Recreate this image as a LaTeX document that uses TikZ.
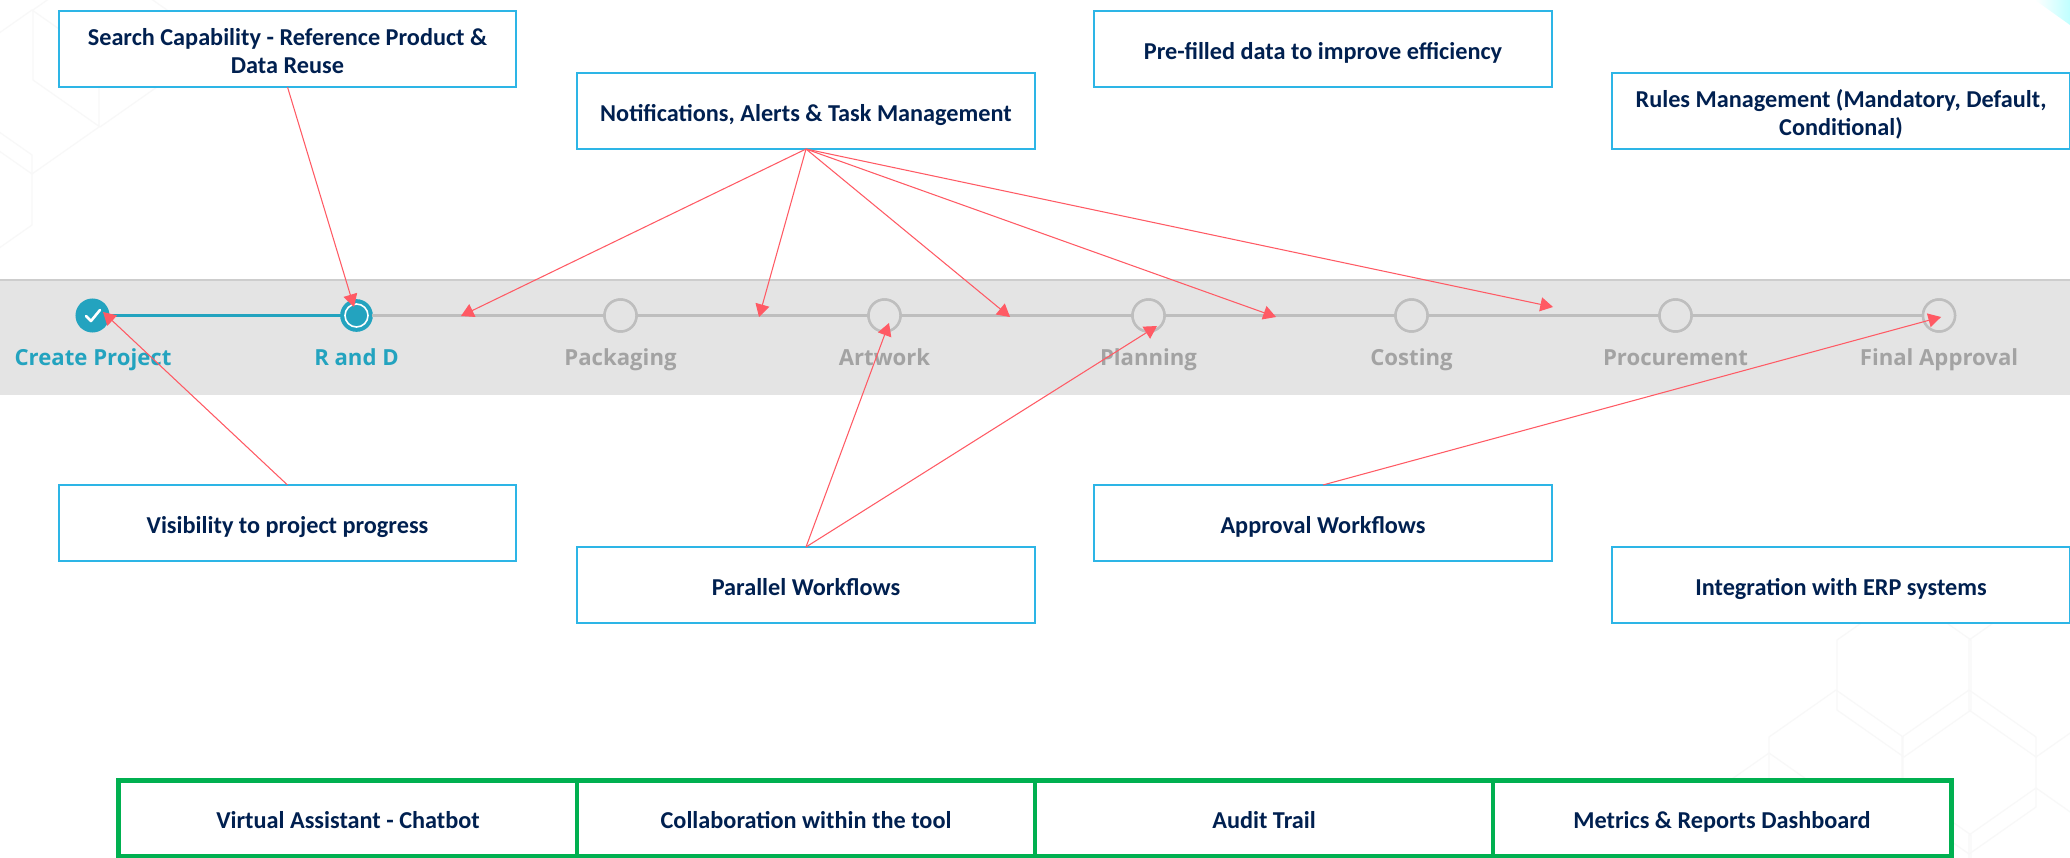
\documentclass[tikz,border=0pt]{standalone}
\usepackage{fontspec}
\setmainfont{Carlito}
\newfontfamily\stepfont{Open Sans}
\usetikzlibrary{arrows.meta}
\definecolor{boxblue}{HTML}{2DB5E6}
\definecolor{boxgreen}{HTML}{00B050}
\definecolor{navy}{HTML}{002050}
\definecolor{redline}{HTML}{FF5A64}
\definecolor{teal}{HTML}{23A3BF}
\definecolor{stepgrey}{HTML}{BEBEBE}
\definecolor{labelgrey}{HTML}{A3A3A3}
\definecolor{barfill}{HTML}{E4E4E4}
\definecolor{hexgrey}{HTML}{F8F8F8}
\tikzset{
  x=0.01cm,y=-0.01cm,
  infobox/.style={draw=boxblue,line width=0.6pt,fill=white,minimum width=4.57cm,minimum height=0.76cm,inner sep=0pt,outer sep=0pt,align=center,text=navy,font=\fontsize{6.9}{8}\selectfont\bfseries,
    execute at begin node={\rule{0pt}{6.95pt}},execute at end node={\rule[-1.2pt]{0pt}{1.2pt}}},
  greenbox/.style={infobox,draw=boxgreen,line width=1.35pt,minimum width=4.58cm,minimum height=0.755cm},
  todo/.style={circle,draw=stepgrey,line width=0.7pt,fill=barfill,minimum size=0.32cm,inner sep=0pt,outer sep=0pt},
  steplabel/.style={inner sep=0pt,anchor=base,font=\fontsize{6.3}{8}\stepfont\bfseries},
  link/.style={draw=redline,line width=0.3pt,-{Triangle[length=3.6pt,width=4pt,fill=redline]}},
  hex/.style={draw=hexgrey,line width=0.35pt},
}
\newcommand{\hexat}[2]{\draw[hex] (#1,#2-47) -- (#1+67,#2) -- (#1+67,#2+70) -- (#1,#2+117) -- (#1-67,#2+70) -- (#1-67,#2) -- cycle;}
\begin{document}
\begin{tikzpicture}
\clip (0,0) rectangle (2070,858);
\fill[white] (0,0) rectangle (2070,858);
% background pattern
\hexat{32}{57}\hexat{-35}{155}\hexat{100}{10}
\hexat{1836}{737}\hexat{1969}{737}\hexat{1904}{640}\hexat{2036}{640}\hexat{1769}{800}\hexat{1904}{835}\hexat{2036}{835}
\shade[left color=white,right color=cyan!25!white] (2035,0) -- (2070,0) -- (2070,25) -- cycle;
% bar
\node[fill=barfill,draw=none,minimum width=20.8cm,minimum height=1.145cm,inner sep=0pt,outer sep=0pt] (bar) at (1035,337.5) {};
\draw[stepgrey!60!barfill,line width=0.5pt] (bar.north west) -- (bar.north east);
% steps
\node[circle,fill=teal,minimum size=0.34cm,inner sep=0pt,outer sep=0pt] (s1) at (92.5,315.5) {};
\node[circle,draw=teal,line width=0.75pt,fill=teal,minimum size=0.3cm,inner sep=0pt,outer sep=0pt] (s2) at (356.5,315.5) {};
\node[todo] (s3) at (620.5,315.5) {};
\node[todo] (s4) at (884.5,315.5) {};
\node[todo] (s5) at (1148.5,315.5) {};
\node[todo] (s6) at (1411.5,315.5) {};
\node[todo] (s7) at (1675.5,315.5) {};
\node[todo] (s8) at (1939,315.5) {};
\draw[white,line width=0.45pt] (s2) circle (0.115cm);
\draw[teal,line width=0.8pt] (s1) -- (s2);
\foreach \a/\b in {s2/s3,s3/s4,s4/s5,s5/s6,s6/s7,s7/s8} \draw[stepgrey,line width=0.8pt] (\a) -- (\b);
\foreach \n in {s3,s4,s5,s6,s7,s8} \draw[stepgrey,line width=0.7pt,fill=barfill] (\n) circle (0.16cm);
\draw[white,line width=0.75pt,line cap=round,line join=round] (86,316) -- (91,321) -- (100,310);
\node[steplabel,text=teal] (l1) at (93,366) {Create Project};
\node[steplabel,text=teal] (l2) at (356.5,366) {R and D};
\node[steplabel,text=labelgrey] (l3) at (620.5,366) {Packaging};
\node[steplabel,text=labelgrey] (l4) at (884.5,366) {Artwork};
\node[steplabel,text=labelgrey] (l5) at (1148.5,366) {Planning};
\node[steplabel,text=labelgrey] (l6) at (1411.5,366) {Costing};
\node[steplabel,text=labelgrey] (l7) at (1675.5,366) {Procurement};
\node[steplabel,text=labelgrey] (l8) at (1939,366) {Final Approval};
% boxes
\node[infobox] (search) at (287.5,49) {\\[-0.75pt]Search Capability - Reference Product \&\\Data Reuse};
\node[infobox] (prefill) at (1323,49) {Pre-filled data to improve efficiency};
\node[infobox] (notif) at (806,111) {Notifications, Alerts \& Task Management};
\node[infobox] (rules) at (1841,111) {\\[-0.75pt]Rules Management (Mandatory, Default,\\Conditional)};
\node[infobox] (visib) at (287.5,523) {Visibility to project progress};
\node[infobox] (para) at (806,585) {Parallel Workflows};
\node[infobox] (appr) at (1323,523) {Approval Workflows};
\node[infobox] (integ) at (1841,585) {Integration with ERP systems};
\node[greenbox] (g1) at (348,818.5) {Virtual Assistant - Chatbot};
\node[greenbox] (g2) at (806,818.5) {Collaboration within the tool};
\node[greenbox] (g3) at (1264,818.5) {Audit Trail};
\node[greenbox] (g4) at (1722,818.5) {Metrics \& Reports Dashboard};
% free ends of the connectors
\coordinate (t0) at (354,307);
\coordinate (t1) at (461,316);
\coordinate (t2) at (759,317);
\coordinate (t3) at (1010,317);
\coordinate (t4) at (1276,317);
\coordinate (t5) at (1553,307);
\coordinate (t6) at (103,312);
\coordinate (t7) at (889,323);
\coordinate (t8) at (1157,326);
\coordinate (t9) at (1941,317);
\draw[link] (search.south) -- (t0);
\foreach \t in {t1,t2,t3,t4,t5} \draw[link] (notif.south) -- (\t);
\draw[link] (visib.north) -- (t6);
\draw[link] (para.north) -- (t7);
\draw[link] (para.north) -- (t8);
\draw[link] (appr.north) -- (t9);
\end{tikzpicture}
\end{document}
